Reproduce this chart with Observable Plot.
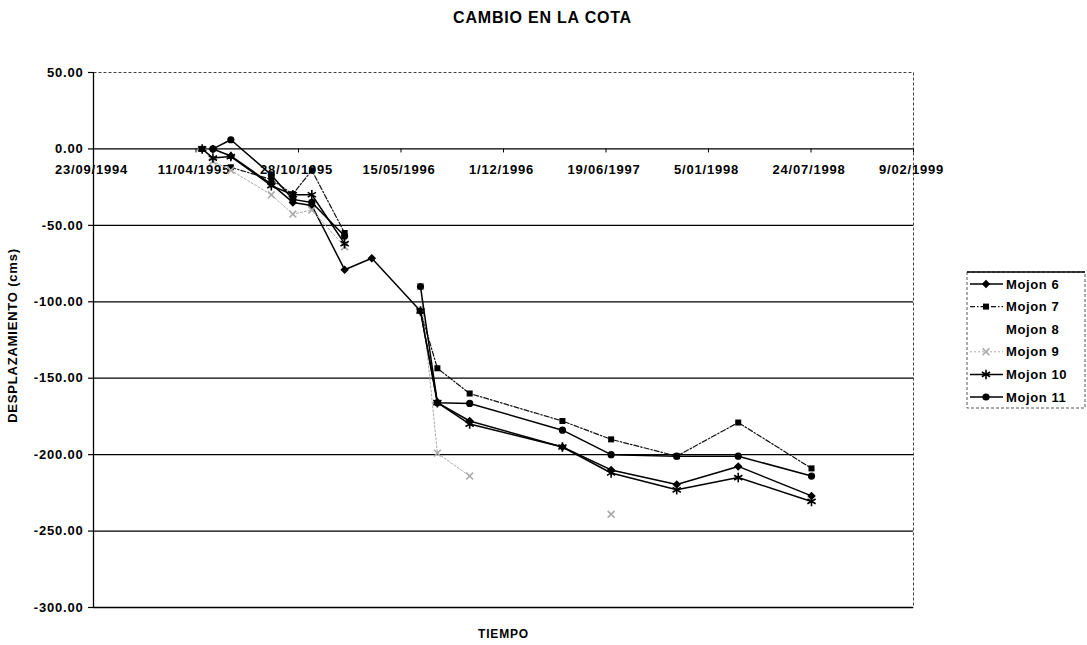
<!DOCTYPE html>
<html><head><meta charset="utf-8">
<script src="https://cdn.jsdelivr.net/npm/d3@7"></script>
<script src="https://cdn.jsdelivr.net/npm/@observablehq/plot@0.6"></script>
<style>
html,body{margin:0;padding:0;background:#fff;}
#chart{width:1087px;height:645px;}
</style></head><body><div id="chart"></div>
<script>
// measurement dates
const dates = ["1995-04-23","1995-05-14","1995-06-18","1995-09-05","1995-10-17","1995-11-23",
  "1996-01-26","1996-03-19","1996-06-22","1996-07-25","1996-09-26","1997-03-26",
  "1997-06-29","1997-11-04","1998-03-04","1998-07-25"];
const mojon6  = [null, 0, -4.6, -23, -35, -37, -79, -71.5, -106, -166, -178, -195, -210, -219.5, -207.7, -227];
const mojon7  = [0, null, -12, -20, -29.6, -14, -55, null, -106, -143.5, -160, -178, -190, -201, -179, -209];
const mojon9  = [null, -8, -14, -30, -42.6, -40, -64, null, -90, -199, -214, null, -239, null, null, null];
const mojon10 = [0, -6, -5, -24, -30, -30, -62, null, -106, -166, -180, -195, -212, -223, -215, -230.6];
const mojon11 = [null, 0, 6, -17, -33, -35, -57, null, -90, -166, -166.5, -184, -200, -201, -201, -214];
const legendNames = ["Mojon 6","Mojon 7","Mojon 8","Mojon 9","Mojon 10","Mojon 11"];
const xTickDates = ["1994-09-23","1995-04-11","1995-10-28","1996-05-15","1996-12-01","1997-06-19","1998-01-05","1998-07-24","1999-02-09"];
const yTickValues = [-300,-250,-200,-150,-100,-50,0,50];
const titleText = "CAMBIO EN LA COTA";
const xLabel = "TIEMPO";
const yLabel = "DESPLAZAMIENTO (cms)";

const parse = d3.utcParse("%Y-%m-%d");
const fmtX = d3.utcFormat("%-d/%m/%Y");
const FONT = "'Liberation Sans', Arial, Helvetica, sans-serif";

const seriesCfg = [
  {name:"Mojon 6",  values:mojon6,  stroke:"#000", dash:null, sw:1.5, symbol:"square", rotate:45, fill:"#000", r:3.4},
  {name:"Mojon 7",  values:mojon7,  stroke:"#111", dash:"5,2,1.5,2", sw:1.2, symbol:"square", rotate:0, fill:"#000", r:3.4},
  {name:"Mojon 9",  values:mojon9,  stroke:"#aaa", dash:"2,2", sw:1, symbol:"times", rotate:0, fill:"none", r:3.2},
  {name:"Mojon 10", values:mojon10, stroke:"#000", dash:null, sw:1.5, symbol:"asterisk", rotate:0, fill:"none", r:4.5},
  {name:"Mojon 11", values:mojon11, stroke:"#000", dash:null, sw:1.5, symbol:"circle", rotate:0, fill:"#000", r:3.6}
];

const seriesMarks = [];
for (const s of seriesCfg) {
  const data = s.values.map((v,i)=>({date: parse(dates[i]), value: v}));
  seriesMarks.push(Plot.line(data, {x:"date", y:"value", stroke:s.stroke, strokeWidth:s.sw,
    strokeDasharray: s.dash || undefined}));
  const pts = data.filter(d=>d.value!=null);
  if (s.fill === "none") {
    seriesMarks.push(Plot.dot(pts, {x:"date", y:"value", symbol:s.symbol, r:s.r, stroke:s.stroke, strokeWidth:1.6, fill:"none"}));
  } else {
    seriesMarks.push(Plot.dot(pts, {x:"date", y:"value", symbol:s.symbol, rotate:s.rotate, r:s.r, fill:s.fill, stroke:"none"}));
  }
}

const xTicks = xTickDates.map(parse);
const x0 = xTicks[0];

const chart = Plot.plot({
  width:1087, height:645,
  marginLeft:93, marginRight:174, marginTop:72, marginBottom:38,
  style:{fontFamily:FONT, background:"#fff", color:"#000"},
  x:{type:"utc", domain:[xTicks[0], xTicks[xTicks.length-1]], axis:null},
  y:{domain:[-300,50], axis:null},
  marks:[
    Plot.frame({stroke:"#444", strokeDasharray:"3,2", strokeWidth:1}),
    Plot.ruleY(yTickValues.filter(v=>v<50), {stroke:"#000", strokeWidth:1.3}),
    Plot.ruleX([x0], {stroke:"#000", strokeWidth:1.3}),
    // y ticks
    Plot.ruleY(yTickValues, {y:d=>d, x1:x0, x2:x0, insetLeft:-5, stroke:"#000", strokeWidth:1.2}),
    Plot.text(yTickValues, {y:d=>d, x:x0, text:d=>d.toFixed(2), dx:-10, textAnchor:"end",
      fontSize:13, fontWeight:"bold", fill:"#000"}),
    // x ticks on zero line
    Plot.ruleX(xTicks, {x:d=>d, y1:0, y2:0, insetBottom:-4, stroke:"#000", strokeWidth:1}),
    Plot.text(xTicks, {x:d=>d, y:0, text:d=>fmtX(d), dx:-2, dy:21, fontSize:13, fontWeight:"bold", fill:"#000"}),
    ...seriesMarks,
    Plot.text([titleText], {frameAnchor:"top", dx:39, dy:-54.5, lineAnchor:"middle", fontSize:16, fontWeight:"bold", fill:"#000"}),
    Plot.text([xLabel], {frameAnchor:"bottom", dy:27, lineAnchor:"middle", fontSize:12, fontWeight:"bold", fill:"#000"}),
    Plot.text([yLabel], {frameAnchor:"left", dx:-81, dy:-4.5, rotate:-90, textAnchor:"middle", lineAnchor:"middle", fontSize:13, fontWeight:"bold", fill:"#000"})
  ]
});

// letter spacing tweaks to match wide scan lettering
const svg = d3.select(chart);
svg.selectAll("text").attr("letter-spacing", "0.8px");

// legend
const lg = svg.append("g").attr("font-family", FONT).attr("font-size", 13).attr("font-weight","bold")
  .attr("text-anchor","start");
lg.append("rect").attr("x",967).attr("y",272).attr("width",118).attr("height",136)
  .attr("fill","#fff").attr("stroke","#555").attr("stroke-dasharray","3,2");
lg.append("line").attr("x1",967).attr("x2",1085).attr("y1",272).attr("y2",272).attr("stroke","#000").attr("stroke-width",1.5);
const cfgByName = Object.fromEntries(seriesCfg.map(s=>[s.name,s]));
const symMap = {square:d3.symbolSquare, times:d3.symbolTimes, asterisk:d3.symbolAsterisk, circle:d3.symbolCircle};
legendNames.forEach((n,i)=>{
  const y = 284 + i*22.6;
  const s = cfgByName[n];
  if (s) {
    lg.append("line").attr("x1",970).attr("x2",1003).attr("y1",y).attr("y2",y)
      .attr("stroke",s.stroke).attr("stroke-width",s.sw).attr("stroke-dasharray", s.dash || null);
    const p = d3.symbol(symMap[s.symbol], Math.PI*s.r*s.r)();
    lg.append("path").attr("d",p).attr("transform",`translate(986,${y}) rotate(${s.rotate||0})`)
      .attr("fill", s.fill==="none" ? "none" : s.fill)
      .attr("stroke", s.fill==="none" ? s.stroke : "none").attr("stroke-width",1.6);
  }
  lg.append("text").attr("x",1006).attr("y",y).attr("dy","0.35em").attr("fill","#000")
    .attr("text-anchor","start").attr("letter-spacing","0.6px").text(n);
});

document.getElementById("chart").appendChild(chart);
</script>
</body></html>
